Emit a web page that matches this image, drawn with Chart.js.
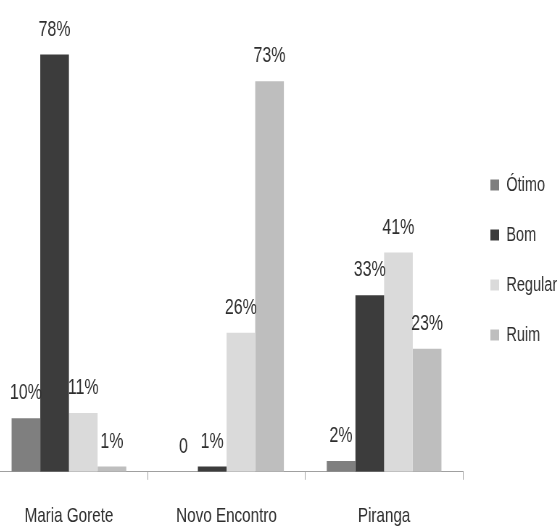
<!DOCTYPE html>
<html>
<head>
<meta charset="utf-8">
<script src="https://cdn.jsdelivr.net/npm/chart.js@4/dist/chart.umd.min.js"></script>
<style>
  body { margin: 0; overflow: hidden; background: #fff; }
  #myChart { display: block; margin-left: -20px; }
</style>
</head>
<body>
<!-- drawn wide and squeezed by css so the text comes out condensed like the original -->
<canvas id="myChart" width="800" height="526" style="width:580px;height:526px"></canvas>
<script>
const categories = ["Maria Gorete", "Novo Encontro", "Piranga"];
const otimo = [10, 0, 2];
const bom = [78, 1, 33];
const regular = [11, 26, 41];
const ruim = [1, 73, 23];

const fontFamily = "'Liberation Sans', Arial, sans-serif";

// labels above the bars
const barLabels = {
  id: "barLabels",
  afterDatasetsDraw(chart) {
    const ctx = chart.ctx;
    ctx.save();
    ctx.font = "22px " + fontFamily;
    ctx.fillStyle = "#2e2e2e";
    ctx.textAlign = "center";
    ctx.textBaseline = "middle";
    chart.data.datasets.forEach((ds, i) => {
      chart.getDatasetMeta(i).data.forEach((bar, j) => {
        const v = ds.data[j];
        const txt = v === 0 ? "0" : v + "%";
        ctx.fillText(txt, bar.x, bar.y - 25);
      });
    });
    ctx.restore();
  },
};

const data = {
  labels: categories,
  datasets: [
    { label: "Ótimo", data: otimo, backgroundColor: "#7f7f7f" },
    { label: "Bom", data: bom, backgroundColor: "#3c3c3c" },
    { label: "Regular", data: regular, backgroundColor: "#dadada" },
    { label: "Ruim", data: ruim, backgroundColor: "#bebebe" },
  ],
};

const config = {
  type: "bar",
  data,
  options: {
    responsive: false,
    animation: false,
    devicePixelRatio: 1,
    categoryPercentage: 0.728,
    barPercentage: 1,
    layout: { padding: { left: 14, top: -33, right: 0, bottom: -27 } },
    plugins: {
      tooltip: { enabled: false },
      legend: {
        position: "right",
        maxWidth: 126,
        labels: {
          boxWidth: 12,
          boxHeight: 11,
          padding: 30,
          color: "#2e2e2e",
          font: { family: fontFamily, size: 20 },
        },
      },
    },
    scales: {
      x: {
        border: { color: "#a0a0a0", width: 1 },
        grid: {
          drawOnChartArea: false,
          tickLength: 8,
          color: "#a0a0a0",
        },
        ticks: {
          padding: 24,
          color: "#2e2e2e",
          font: { family: fontFamily, size: 21 },
        },
      },
      y: {
        position: "right",
        min: 0,
        max: 88.2,
        grid: { display: false },
        border: { display: false },
        ticks: { display: false },
        // just a small gap between the bars and the legend
        afterFit(scale) {
          scale.width = 8;
        },
      },
    },
  },
  plugins: [barLabels],
};

let myChart = new Chart(document.getElementById("myChart"), config);
</script>
</body>
</html>
